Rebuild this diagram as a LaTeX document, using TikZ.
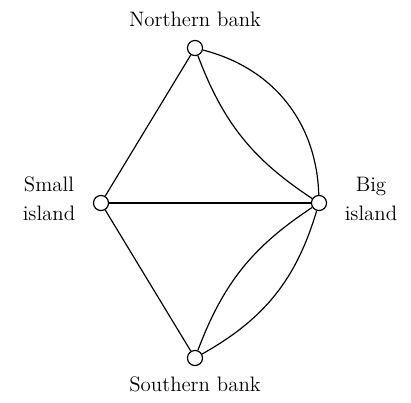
\documentclass[tikz,border=0pt]{standalone}
\begin{document}
\begin{tikzpicture}[x=0.55pt,y=-0.55pt,
  vert/.style={circle,draw,line width=0.65pt,fill=white,inner sep=0pt,minimum size=8.3pt},
  lbl/.style={align=center,font=\fontsize{11.5}{16}\selectfont},
  edge/.style={line width=0.65pt}]
\useasboundingbox (0,0) rectangle (411,402);
\node[vert] (N) at (195,48) {};
\node[vert] (W) at (101,203) {};
\node[vert] (E) at (319,203) {};
\node[vert] (S) at (195,358) {};
\node[lbl] (NL) at (195,19) {Northern bank};
\node[lbl] (SL) at (195,384) {Southern bank};
\node[lbl] (WL) at (49,199) {Small\\island};
\node[lbl] (EL) at (371,199) {Big\\island};
\draw[edge] (N) -- (W);
\draw[edge] (W) -- (S);
\draw[edge] (W) -- (E);
\draw[edge] (N) to[bend left=37] (E);
\draw[edge] (N) to[bend right=18] (E);
\draw[edge] (S) to[bend right=22] (E);
\draw[edge] (S) to[bend left=18] (E);
\end{tikzpicture}
\end{document}
